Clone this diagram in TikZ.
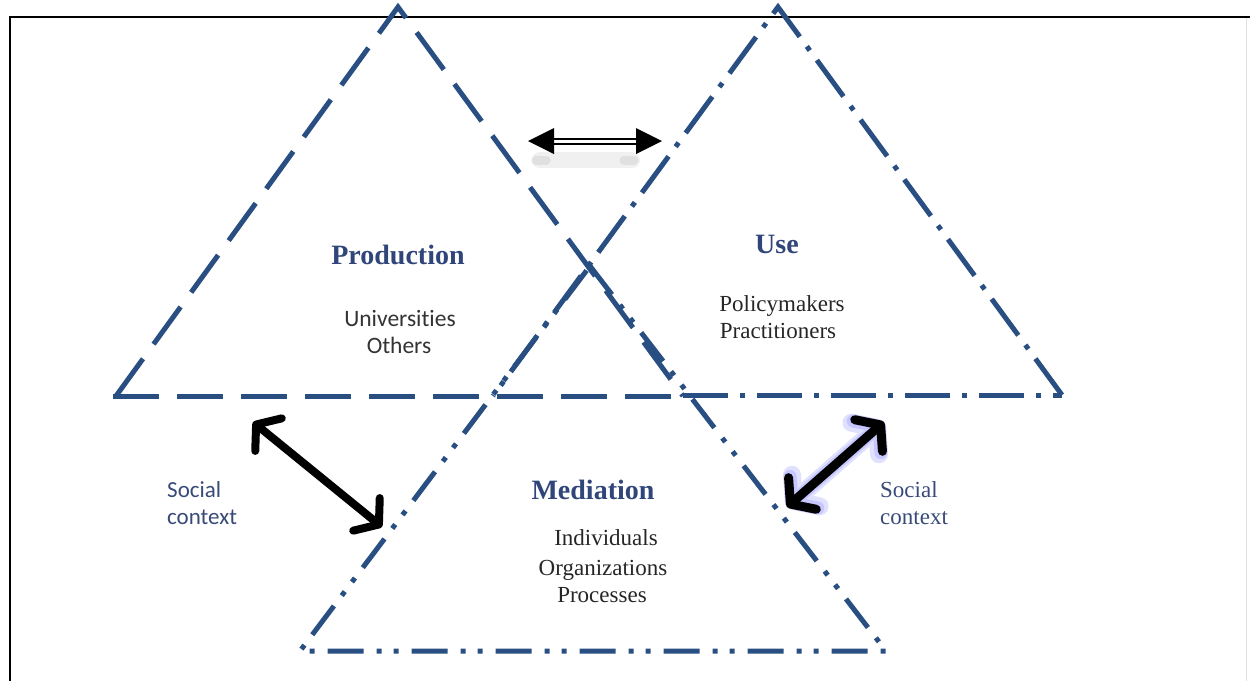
\documentclass[tikz,border=0pt]{standalone}
\usepackage{fontspec}
\setmainfont{Liberation Serif}
\newfontfamily\calib[Ligatures=NoCommon]{Carlito}
\usetikzlibrary{arrows.meta}
\definecolor{lineblue}{RGB}{40,78,130}
\definecolor{textblue}{RGB}{48,70,122}
\definecolor{socblue}{RGB}{56,74,120}
\tikzset{
  tri/.style={draw=lineblue, line width=5pt, line join=miter},
  prodline/.style={tri, dash pattern=on 46pt off 18pt},
  useline/.style={tri, dash pattern=on 45pt off 12pt on 5pt off 12pt},
  medline/.style={tri, dash pattern=on 36pt off 13pt on 5pt off 12pt on 5pt off 13pt},
  title/.style={font=\fontsize{28}{30}\selectfont\bfseries, text=textblue, anchor=base, inner sep=0pt},
  item/.style={font=\fontsize{23}{27}\selectfont, text=black!85, anchor=base, inner sep=0pt},
  citem/.style={font=\calib\fontsize{23.5}{27}\selectfont, text=black!80, anchor=base, inner sep=0pt},
  soc/.style={align=left, anchor=north west, inner sep=0pt},
  bigarrow/.style={line width=8pt, line cap=round, {Straight Barb[length=16pt,width=42pt,line cap=round,line join=round]}-{Straight Barb[length=16pt,width=42pt,line cap=round,line join=round]}},
}
\begin{document}
\begin{tikzpicture}[x=1pt,y=-1pt]
\useasboundingbox (0,0) rectangle (1250,681);
% frame
\draw[line width=2.5pt] (10,681) -- (10,17) -- (1250,17);
\draw[line width=1pt, black!12] (1246,18) -- (1246,681);

% triangles
\coordinate (pA) at (398,7);
\coordinate (pL) at (116,396);
\coordinate (pR) at (683,396);
\coordinate (uA) at (778,7);
\coordinate (uL) at (493,396);
\coordinate (uR) at (1062,395);
\coordinate (mA) at (590,266);
\coordinate (mL) at (300,651);
\coordinate (mR) at (886,651);

\draw[useline] (uR) -- (uA) -- (uL);
\draw[useline] (683,395) -- (uR);
\draw[medline] (mA) -- (mR) -- (mL) -- cycle;
\draw[prodline] (pL) -- (pA) -- (pR);
\draw[prodline] (113,396) -- (pR);

% top double arrow
\coordinate (ta) at (528,141);
\coordinate (tb) at (662,141);
\draw[line width=16pt, line cap=round, black!6] (540,160) -- (632,160);
\draw[line width=9pt, line cap=round, black!12] (536,160) -- (546,160);
\draw[line width=9pt, line cap=round, black!12] (624,160) -- (634,160);
\draw[line width=2pt, double=white, double distance=3pt] ([xshift=22pt]ta) -- ([xshift=-22pt]tb);
\fill (ta) -- ++(26,-13) -- ++(0,26) -- cycle;
\fill (tb) -- ++(-26,-13) -- ++(0,26) -- cycle;

% left big arrow
\coordinate (la) at (253,422);
\coordinate (lb) at (382,527);
\draw[bigarrow] (la) -- (lb);

% right big arrow with glow
\coordinate (ra) at (787,507);
\coordinate (rb) at (884,422);
\draw[bigarrow, line width=18pt, draw=blue!12] (ra) -- (rb);
\draw[bigarrow, line width=13pt, draw=blue!22] (ra) -- (rb);
\draw[bigarrow, line width=9pt] (ra) -- (rb);

% titles
\node[title] (prod) at (398,264) {Production};
\node[title] (use) at (777,253) {Use};
\node[title] (med) at (593,499) {Mediation};

% items
\node[citem] (univ) at (400,326) {Universities};
\node[citem] (oth) at (399,353) {Others};
\node[item] (pol) at (782,311) {Policymakers};
\node[item] (pra) at (778,338) {Practitioners};
\node[item] (ind) at (606,545) {Individuals};
\node[item] (org) at (603,575) {Organizations};
\node[item] (proc) at (602,602) {Processes};

% social context
\node[soc, font=\calib\fontsize{23}{27}\selectfont, text=socblue] (socl) at (167,481) {Social\\context};
\node[soc, font=\fontsize{23}{27}\selectfont, text=socblue] (socr) at (880,481) {Social\\context};
\end{tikzpicture}
\end{document}
